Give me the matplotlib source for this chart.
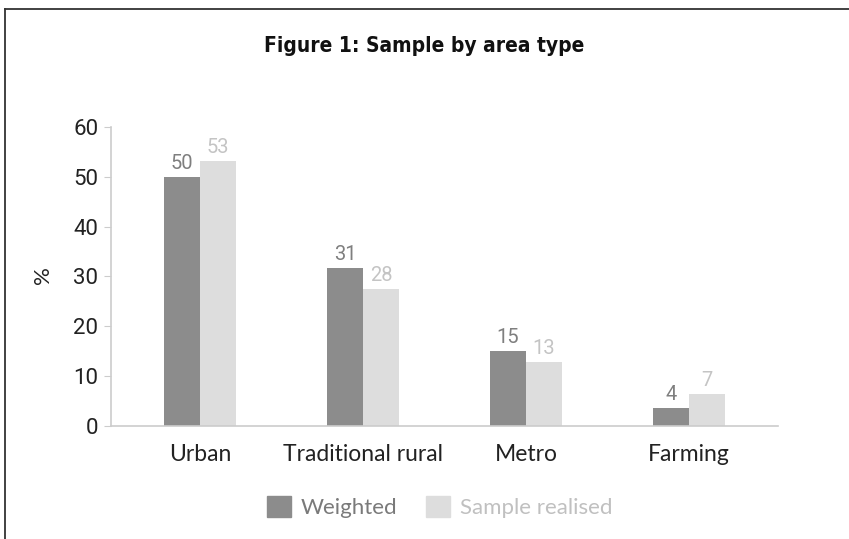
import matplotlib.pyplot as plt
from matplotlib.lines import Line2D
from matplotlib.patches import Patch
from matplotlib import font_manager
import numpy as np

categories = ["Urban", "Traditional rural", "Metro", "Farming"]
weighted = [50.0, 31.6, 15.0, 3.6]
sample = [53.2, 27.4, 12.8, 6.4]
weighted_labels = ["50", "31", "15", "4"]
sample_labels = ["53", "28", "13", "7"]
yticks = [0, 10, 20, 30, 40, 50, 60]

dark = "#8c8c8c"
light = "#dddddd"

fig = plt.figure(figsize=(8.49, 5.39), dpi=100)
ax = fig.add_axes([0.1304, 0.2102, 0.786, 0.5542])

x = np.arange(len(categories))
w = 0.22
b1 = ax.bar(x - w / 2, weighted, w, color=dark)
b2 = ax.bar(x + w / 2, sample, w, color=light)

for rect, lab in zip(b1, weighted_labels):
    ax.annotate(lab, (rect.get_x() + rect.get_width() / 2, rect.get_height()),
                xytext=(0, 3), textcoords="offset points", ha="center", va="bottom",
                fontsize=14.5, color="#7f7f7f", family="Roboto")
for rect, lab in zip(b2, sample_labels):
    ax.annotate(lab, (rect.get_x() + rect.get_width() / 2, rect.get_height()),
                xytext=(0, 3), textcoords="offset points", ha="center", va="bottom",
                fontsize=14.5, color="#c4c4c4", family="Roboto")

ax.set_xlim(-0.548, 3.546)
ax.set_ylim(0, 60)
ax.set_yticks(yticks)
ax.set_yticklabels([str(t) for t in yticks], family="Roboto", fontsize=16, color="#222222")
ax.set_xticks(x)
ax.set_xticklabels(categories, family="Lato", fontsize=16.5, color="#222222")
ax.tick_params(axis="x", length=0, pad=13)
ax.tick_params(axis="y", length=5, color="#cccccc", pad=4)
for s in ["top", "right"]:
    ax.spines[s].set_visible(False)
for s in ["left", "bottom"]:
    ax.spines[s].set_color("#cccccc")
    ax.spines[s].set_linewidth(1.2)

fig.text(0.051, 0.49, "%", rotation=90, ha="center", va="center",
         fontsize=16, family="Lato", color="#222222")

title_font = font_manager.FontProperties(family="DejaVu Sans", weight="bold",
                                         stretch="condensed", size=15)
fig.text(0.5, 0.915, "Figure 1: Sample by area type", ha="center", va="center",
         fontproperties=title_font, color="#111111")

handles = [Patch(color=dark), Patch(color=light)]
leg = fig.legend(handles, ["Weighted", "Sample realised"], loc="center",
                 bbox_to_anchor=(0.518, 0.0593), ncol=2, frameon=False,
                 prop={"family": "Lato", "size": 16},
                 handlelength=1.05, handleheight=1.05,
                 handletextpad=0.45, columnspacing=1.3)
for t, c in zip(leg.get_texts(), ["#7a7a7a", "#c0c0c0"]):
    t.set_color(c)

# frame border (top and left)
fig.add_artist(Line2D([5 / 849, 1.0], [1 - 9 / 539, 1 - 9 / 539], color="#333333", lw=1.3))
fig.add_artist(Line2D([5 / 849, 5 / 849], [0, 1 - 9 / 539], color="#333333", lw=1.3))

fig.savefig("out.png", dpi=100)
